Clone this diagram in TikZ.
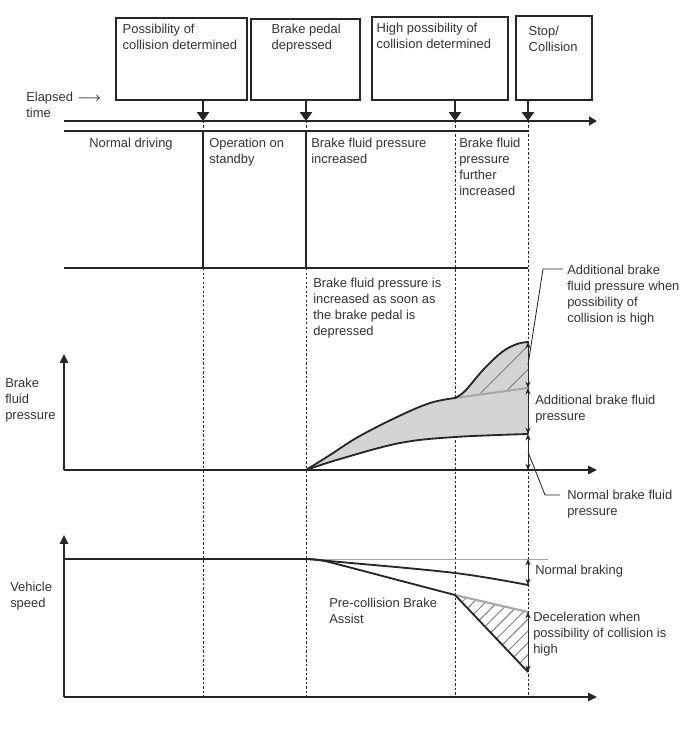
\documentclass[tikz,border=0pt]{standalone}
\usepackage{fontspec}
\setmainfont{Liberation Sans}
\usetikzlibrary{arrows.meta}
\usetikzlibrary{patterns.meta}
\usetikzlibrary{positioning}
\definecolor{ink}{HTML}{262626}
\definecolor{txtgray}{HTML}{333333}
\definecolor{areagray}{HTML}{D4D4D4}
\definecolor{midgray}{HTML}{A8A8A8}

\begin{document}
\begin{tikzpicture}[x=0.025cm,y=-0.025cm,
  lbl/.style={font=\fontsize{9.2}{11.4}\selectfont,text=txtgray,anchor=north west,inner sep=0pt,align=left},
  evbox/.style={draw=ink,line width=0.8pt,rectangle,inner sep=0pt},
  evarrow/.style={draw=ink,line width=1.2pt,-{Triangle[length=0.22cm,width=0.3cm]}},
  tline/.style={draw=ink,line width=1.5pt,-{Triangle[length=0.2cm,width=0.22cm]}},
  axis/.style={draw=ink,line width=1.3pt,-{Triangle[length=0.22cm,width=0.2cm]}},
  gridline/.style={draw=ink,line width=0.8pt},
  guide/.style={draw=ink,line width=0.7pt,dash pattern=on 1.6pt off 1.6pt},
  curve/.style={draw=ink,line width=1.3pt,line join=round},
  dimline/.style={draw=ink,line width=0.6pt,{Stealth[length=1.6mm,width=1.3mm]}-{Stealth[length=1.6mm,width=1.3mm]}},
  leader/.style={draw=ink,line width=0.6pt},
  greyline/.style={draw=midgray,line width=1.5pt}]
\useasboundingbox (0,0) rectangle (688,755);

% event boxes
\node[evbox,minimum width=3.275cm,minimum height=2.05cm] (boxA) at (181.5,59) {};
\node[evbox,minimum width=2.725cm,minimum height=2.025cm] (boxB) at (305.5,59.5) {};
\node[evbox,minimum width=3.4cm,minimum height=2.075cm] (boxC) at (440,58.5) {};
\node[evbox,minimum width=1.9cm,minimum height=2.1cm] (boxD) at (554,58) {};
\node[lbl] (txtA) at ([shift={(7,6)}]boxA.north west) {Possibility of\\collision determined};
\node[lbl] (txtB) at ([shift={(21,5)}]boxB.north west) {Brake pedal\\depressed};
\node[lbl] (txtC) at ([shift={(5,6)}]boxC.north west) {High possibility of\\collision determined};
\node[lbl] (txtD) at ([shift={(13,10)}]boxD.north west) {Stop/\\Collision};

% time axis
\coordinate (tStart) at (64,121);
\coordinate (tEnd) at (597,121);
\coordinate (tA) at (203,121);
\coordinate (tB) at (306,121);
\coordinate (tC) at (455,121);
\coordinate (tD) at (528,121);
\node[lbl] (elapsed) at (26,92) {Elapsed\,\,{\boldmath$\longrightarrow$}\\time};
\draw[tline] (tStart) -- (tEnd);
\draw[evarrow] (tA |- boxA.south) -- (tA);
\draw[evarrow] (tB |- boxB.south) -- (tB);
\draw[evarrow] (tC |- boxC.south) -- (tC);
\draw[evarrow] (tD |- boxD.south) -- (tD);

% phase table
\draw[gridline] (64,131) -- (528,131);
\draw[gridline] (64,268) -- (528,268);
\foreach \x in {203,306} {
  \draw[guide] (\x,121) -- (\x,131);
  \draw[gridline] (\x,131) -- (\x,268);
  \draw[guide] (\x,268) -- (\x,697);
}
\foreach \x in {455,528} {
  \draw[guide] (\x,121) -- (\x,697);
}
\node[lbl] (phNormal) at (89,138) {Normal driving};
\node[lbl] (phStandby) at (209,138) {Operation on\\standby};
\node[lbl] (phIncr) at (311,138) {Brake fluid pressure\\increased};
\node[lbl] (phFurther) at (459,138) {Brake fluid\\pressure\\further\\increased};
\node[lbl] (asSoon) at (313,278) {Brake fluid pressure is\\increased as soon as\\the brake pedal is\\depressed};

% brake fluid pressure graph
\node[lbl] (bfpAxis) at (5,378) {Brake\\fluid\\pressure};
\fill[areagray] plot[smooth,tension=0.6] coordinates {(306,470) (330,455) (358,437) (397,417) (430,403) (455,398)}
  -- plot[smooth,tension=0.6] coordinates {(455,398) (465,391) (483,370) (502,352) (517,344) (528,342)}
  -- (528,434)
  -- plot[smooth,tension=0.6] coordinates {(528,434) (455,437) (400,443) (340,459) (306,470)} -- cycle;
\fill[pattern={Lines[angle=45,distance=0.42cm,line width=0.6pt]},pattern color=gray]
  plot[smooth,tension=0.6] coordinates {(455,398) (465,391) (483,370) (502,352) (517,344) (528,342)}
  -- (528,388) -- cycle;
\draw[greyline] (455,398) -- (528,388);
\draw[curve] plot[smooth,tension=0.6] coordinates {(306,470) (330,455) (358,437) (397,417) (430,403) (455,398)}
  -- plot[smooth,tension=0.6] coordinates {(455,398) (465,391) (483,370) (502,352) (517,344) (528,342)};
\draw[curve] plot[smooth,tension=0.6] coordinates {(306,470) (340,459) (400,443) (455,437) (528,434)};
\draw[axis] (64,470) -- (64,354);
\draw[axis] (64,470) -- (597,470);
\coordinate (pTop) at (528,342);
\coordinate (pMid) at (528,388);
\coordinate (pLow) at (528,434);
\coordinate (pBase) at (528,470);
\draw[dimline] (pTop) -- (pMid);
\draw[dimline] (pMid) -- (pLow);
\draw[dimline] (pLow) -- (pBase);
\node[lbl] (addHigh) at (567,265) {Additional brake\\fluid pressure when\\possibility of\\collision is high};
\node[lbl] (addP) at (535,395) {Additional brake fluid\\pressure};
\node[lbl] (normP) at (567,490) {Normal brake fluid\\pressure};
\coordinate (pAddHigh) at (528,365);
\coordinate (pNorm) at (528,452);
\draw[leader] ([shift={(-4,4)}]addHigh.north west) -- ++(-20,0) -- (pAddHigh);
\draw[leader] ([shift={(-7,5)}]normP.north west) -- ++(-15,0) -- (pNorm);

% vehicle speed graph
\node[lbl] (vsAxis) at (10,582) {Vehicle\\speed};
\fill[pattern={Lines[angle=45,distance=0.21cm,line width=0.7pt]},pattern color=gray]
  (455,595) -- (528,612) -- (528,672) -- cycle;
\draw[draw=midgray,line width=0.4pt] (306,559) -- (548,559);
\draw[greyline] (455,595) -- (528,612);
\draw[curve] (64,559) -- (306,559);
\draw[curve] plot[smooth,tension=0.6] coordinates {(306,559) (340,562) (455,573) (528,585)};
\draw[curve] (306,559) .. controls (318,559) and (325,561) .. (333,563) -- (455,595) -- (528,672);
\draw[axis] (64,697) -- (64,535);
\draw[axis] (64,697) -- (597,697);
\coordinate (sTop) at (528,559);
\coordinate (sNorm) at (528,585);
\coordinate (sGray) at (528,612);
\coordinate (sEnd) at (528,672);
\draw[dimline] (sTop) -- (sNorm);
\draw[dimline] (sGray) -- (sEnd);
\node[lbl] (normBrk) at (535,565) {Normal braking};
\node[lbl] (decel) at (533,612) {Deceleration when\\possibility of collision is\\high};
\node[lbl] (pcba) at (329,598) {Pre-collision Brake\\Assist};

\end{tikzpicture}
\end{document}
